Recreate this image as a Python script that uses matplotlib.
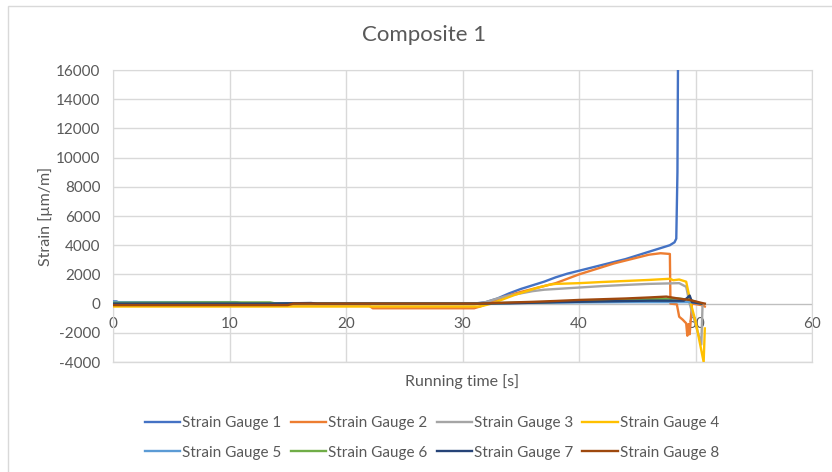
import matplotlib
matplotlib.use("Agg")
import matplotlib.pyplot as plt
from matplotlib.patches import Rectangle

plt.rcParams['font.family'] = ['Lato', 'DejaVu Sans']
plt.rcParams['axes.unicode_minus'] = False

# running time [s] and strain [um/m] for each gauge
t1 = [0, 0.3, 0.5, 10.5, 11, 31, 32, 33, 34, 35, 36, 37, 38, 39, 40, 41, 42, 43, 44,
      45, 46, 47, 47.8, 48.2, 48.35, 48.45, 48.5]
sg1 = [150, 150, 80, 80, 0, 0, 100, 350, 700, 1000, 1250, 1500, 1800, 2050, 2250, 2450,
       2650, 2850, 3050, 3300, 3550, 3800, 4000, 4200, 4450, 9000, 17000]

t2 = [0, 22, 22.3, 31, 31.5, 32.5, 33.5, 35, 36, 37, 38, 39, 40, 41, 42, 43, 44, 45, 46,
      47, 47.8, 47.85, 48.4, 48.6, 48.9, 49.2, 49.3, 49.4, 49.5, 49.7, 50.5, 50.8]
sg2 = [-150, -150, -320, -320, -200, 100, 450, 800, 1000, 1200, 1400, 1700, 2000, 2250,
       2500, 2750, 2950, 3150, 3350, 3450, 3400, 0, -50, -900, -1100, -1350, -2200, -1400,
       -2100, 0, -100, -200]

t3 = [0, 31, 32, 33, 34, 35, 36, 37, 38, 40, 42, 44, 46, 48.6, 49.2, 49.5, 50.5, 50.6]
sg3 = [-50, -50, 100, 350, 550, 700, 850, 950, 1000, 1100, 1200, 1280, 1350, 1400, 1150,
       0, -2800, -200]

t4 = [0, 31.5, 32.5, 33.5, 34.5, 35.5, 36.5, 37.5, 38, 40, 42, 44, 46, 47.8, 48.1, 48.6,
      49.2, 49.6, 50.0, 50.7, 50.8]
sg4 = [-200, -200, 0, 300, 600, 850, 1100, 1300, 1350, 1400, 1480, 1550, 1620, 1700, 1600,
       1650, 1500, 0, -1200, -4000, -1700]

t5 = [0, 10.5, 11, 31.5, 36, 40, 44, 48, 49.5, 50.5]
sg5 = [100, 100, 30, 30, 50, 80, 100, 100, 100, 0]

t6 = [0, 8, 13.5, 14, 31.5, 36, 40, 44, 46, 48.5, 49.5, 50.5]
sg6 = [50, 80, 80, 0, 0, 80, 150, 250, 300, 350, 250, 0]

t7 = [0, 13.5, 17, 17.5, 31.5, 34, 38, 42, 46, 49, 49.3, 49.5, 49.7, 50.5]
sg7 = [0, 0, 40, 0, 0, 20, 100, 150, 200, 200, 400, 550, 100, 0]

t8 = [0, 15, 15.5, 31.5, 33, 36, 38, 40, 42, 44, 46, 47.5, 48.5, 49.5, 50.5, 50.8]
sg8 = [-100, -100, 0, 0, 50, 120, 180, 250, 300, 350, 420, 480, 350, 250, 50, 0]

series = [(t1, sg1), (t2, sg2), (t3, sg3), (t4, sg4),
          (t5, sg5), (t6, sg6), (t7, sg7), (t8, sg8)]
labels = ["Strain Gauge %i" % i for i in range(1, 9)]
colors = ["#4472C4", "#ED7D31", "#A5A5A5", "#FFC000",
          "#5B9BD5", "#70AD47", "#264478", "#9E480E"]

txt = "#595959"
grid = "#D9D9D9"

fig = plt.figure(figsize=(8.32, 4.72), dpi=100)
fig.patches.append(Rectangle((8 / 832, -0.05), 1.1, 1.05 - 6 / 472, transform=fig.transFigure,
                             fill=False, edgecolor=grid, lw=1))
ax = fig.add_axes([113 / 832, 1 - 362 / 472, 699 / 832, 292 / 472])

lines = []
for (t, s), lab, c in zip(series, labels, colors):
    lines += ax.plot(t, s, color=c, lw=1.7, label=lab, zorder=3)

ax.set_xlim(0, 60)
ax.set_ylim(-4000, 16000)
ax.set_xticks(range(0, 61, 10))
ax.set_yticks(range(-4000, 16001, 2000))
ax.grid(True, color=grid, lw=1, zorder=0)
for side in ("top", "left", "right"):
    ax.spines[side].set_color(grid)
ax.spines["bottom"].set_position(("data", 0))
ax.spines["bottom"].set_color("#BFBFBF")
ax.spines["bottom"].set_zorder(2)
# bottom edge of the plot area
ax.axhline(-4000, color=grid, lw=1, clip_on=False, zorder=1)
ax.tick_params(axis="x", length=0, pad=10, labelsize=11, labelcolor=txt)
ax.tick_params(axis="y", length=0, pad=9, labelsize=11, labelcolor=txt)

ax.set_xlabel("Running time [s]", fontsize=11.5, color=txt)
ax.set_ylabel("Strain [µm/m]", fontsize=11.5, color=txt, labelpad=2)
ax.xaxis.set_label_coords(0.5, -0.04)
fig.suptitle("Composite 1", x=0.51, y=1 - 35 / 472, va="center", fontsize=16, color=txt)

# legend filled row by row: 1-4 on top, 5-8 below
order = [0, 4, 1, 5, 2, 6, 3, 7]
fig.legend([lines[i] for i in order], [labels[i] for i in order],
           loc="center", bbox_to_anchor=(432 / 832, 1 - 438 / 472), ncol=4, frameon=False,
           fontsize=11, handlelength=2.3, handletextpad=0.15, columnspacing=0.6,
           labelspacing=1.0, labelcolor=txt)

fig.savefig("out.png", dpi=100)
